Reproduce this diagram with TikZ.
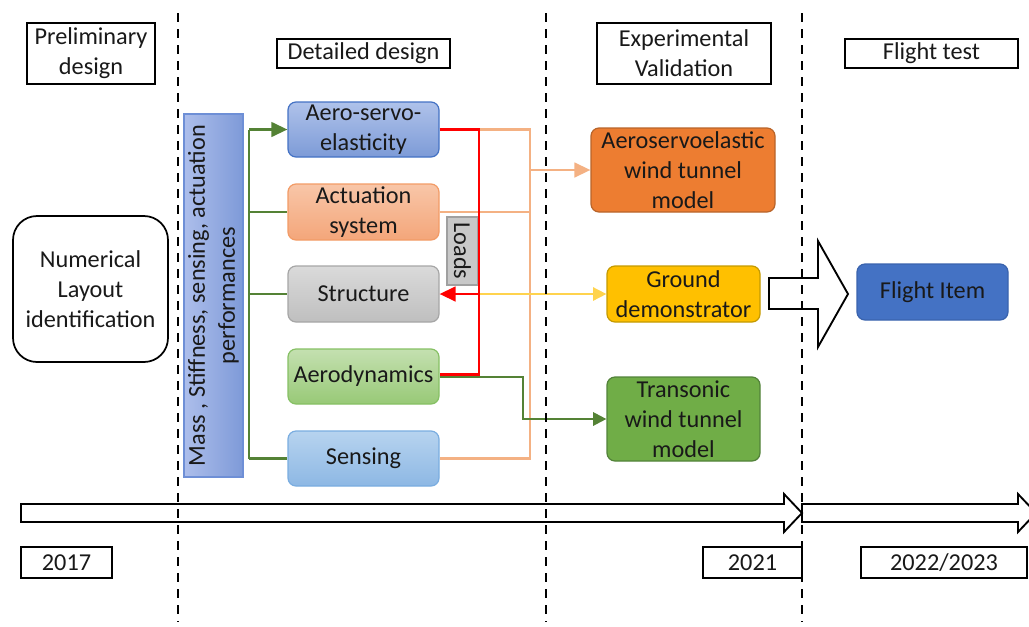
\documentclass[tikz,border=0pt]{standalone}
\usepackage{fontspec}
\setmainfont{Carlito}
\usetikzlibrary{arrows.meta,calc}
\newcommand{\fs}{\fontsize{18.2}{22.5}\selectfont}
\definecolor{aseTop}{HTML}{AFC2EA}\definecolor{aseBot}{HTML}{7D9BD7}\definecolor{aseBd}{HTML}{4472C4}
\definecolor{actTop}{HTML}{F8C6A8}\definecolor{actBot}{HTML}{F4A67A}\definecolor{actBd}{HTML}{F29B66}
\definecolor{strTop}{HTML}{DADADA}\definecolor{strBot}{HTML}{BFBFBF}\definecolor{strBd}{HTML}{A6A6A6}
\definecolor{aerTop}{HTML}{C4E0B0}\definecolor{aerBot}{HTML}{98C977}\definecolor{aerBd}{HTML}{86C064}
\definecolor{senTop}{HTML}{B7D3EF}\definecolor{senBot}{HTML}{8DB8E4}\definecolor{senBd}{HTML}{7AADE0}
\definecolor{barL}{HTML}{ADBEEB}\definecolor{barR}{HTML}{7E9AD8}\definecolor{barBd}{HTML}{6E8FD6}
\definecolor{ldFill}{HTML}{C8C8C8}\definecolor{ldBd}{HTML}{A0A0A0}
\definecolor{aswFill}{HTML}{ED7D31}\definecolor{aswBd}{HTML}{B8642A}
\definecolor{gdFill}{HTML}{FFC000}\definecolor{gdBd}{HTML}{C49A00}
\definecolor{trFill}{HTML}{70AD47}\definecolor{trBd}{HTML}{52823A}
\definecolor{fiFill}{HTML}{4472C4}\definecolor{fiBd}{HTML}{3A63AD}
\definecolor{gLine}{HTML}{548235}\definecolor{oLine}{HTML}{F4B183}
\definecolor{rLine}{HTML}{FF0000}\definecolor{yLine}{HTML}{FFD34D}
\tikzset{
  base/.style={inner sep=0pt, align=center, font=\fs, text=black!90},
  wh/.style 2 args={minimum width=#1*0.75pt, minimum height=#2*0.75pt},
  hdr/.style={base, draw=black, line width=1.4pt, fill=white},
  rbox/.style={base, rounded corners=6pt, line width=0.9pt},
  greenline/.style={draw=gLine, line width=1.7pt},
  redline/.style={draw=rLine, line width=1.8pt},
  orangeline/.style={draw=oLine, line width=1.8pt},
  yellowline/.style={draw=yLine, line width=1.2pt},
  tip/.style={-{Triangle[length=12pt,width=11pt]}},
  smalltip/.style={-{Triangle[length=10pt,width=10pt]}},
  phase/.style={draw=black, line width=1.5pt, dash pattern=on 7pt off 5pt},
  block/.style={draw=black, line width=1.4pt, line join=miter}
}
\begin{document}
\begin{tikzpicture}[x=0.75pt,y=-0.75pt]
\clip (0,0) rectangle (1029,626);
\useasboundingbox (0,0) rectangle (1029,626);

% headers
\node[hdr, wh={128}{61}] (hpre) at (91,53.5) {Preliminary\\design};
\node[hdr, wh={173}{29}] (hdet) at (363.5,53.5) {Detailed design};
\node[hdr, wh={174}{61}] (hexp) at (684,53.5) {Experimental\\Validation};
\node[hdr, wh={173}{29}] (hfli) at (931.5,53.5) {Flight test};

% left box
\node[base, draw=black, line width=1.3pt, rounded corners=18pt, wh={155}{146}] (num) at (90.5,289) {Numerical\\Layout\\identification};

% vertical bar
\node[base, draw=barBd, line width=0.8pt, left color=barL, right color=barR, rotate=90, wh={363}{59}] (bar) at (213.5,295.5) {Mass , Stiffness, sensing, actuation\\performances};

% discipline boxes
\node[rbox, draw=aseBd, top color=aseTop, bottom color=aseBot, wh={151}{55}] (ase) at (363.5,129.5) {Aero-servo-\\elasticity};
\node[rbox, draw=actBd, top color=actTop, bottom color=actBot, wh={151}{56}] (act) at (363.5,212) {Actuation\\system};
\node[rbox, draw=strBd, top color=strTop, bottom color=strBot, wh={151}{56}] (str) at (363.5,294) {Structure};
\node[rbox, draw=aerBd, top color=aerTop, bottom color=aerBot, wh={151}{55}] (aero) at (363.5,376.5) {Aerodynamics};
\node[rbox, draw=senBd, top color=senTop, bottom color=senBot, wh={151}{55}] (sens) at (363.5,458.5) {Sensing};

% loads label
\node[base, draw=ldBd, fill=ldFill, line width=0.8pt, rotate=-90, wh={68}{31}] (loads) at (462.5,251) {Loads};

% experimental boxes
\node[rbox, draw=aswBd, fill=aswFill, wh={184}{84}] (asw) at (683,170) {Aeroservoelastic\\wind tunnel\\model};
\node[rbox, draw=gdBd, fill=gdFill, wh={153}{56}] (gd) at (683.5,294) {Ground\\demonstrator};
\node[rbox, draw=trBd, fill=trFill, wh={153}{84}] (tr) at (683.5,419) {Transonic\\wind tunnel\\model};
\node[rbox, draw=fiBd, fill=fiFill, wh={151}{56}] (fi) at (932.5,292) {Flight Item};

% year boxes
\node[hdr, wh={91}{31}] (y17) at (66.5,562.5) {2017};
\node[hdr, wh={99}{31}] (y21) at (752.5,562.5) {2021};
\node[hdr, wh={166}{31}] (y22) at (944,562.5) {2022/2023};

% helper coordinates
\coordinate (gx) at (249,0);
\coordinate (rx) at (479,0);
\coordinate (ox) at (530,0);
\coordinate (gx2) at (523,0);

% green feed lines
\draw[greenline] (gx |- ase.west) -- (gx |- sens.west);
\draw[greenline, tip] (gx |- ase.west) -- (ase.west);
\draw[greenline] (gx |- act.west) -- (act.west);
\draw[greenline] (gx |- str.west) -- (str.west);
\draw[greenline] (gx |- sens.west) -- (sens.west);

% light orange lines
\draw[orangeline] (ase.east) -- (ox |- ase.east) -- (ox |- sens.east) -- (sens.east);
\draw[orangeline] (act.east) -- (ox |- act.east);
\draw[orangeline, tip] (ox |- asw.west) -- (asw.west);

% yellow line
\draw[yellowline, smalltip] (rx |- str.east) -- (gd.west);

% red loads lines
\draw[redline] (ase.east) -- (rx |- ase.east) -- ($(rx |- aero.east)+(0,-2)$) -- ($(aero.east)+(0,-2)$);
\draw[redline, tip] (rx |- str.east) -- (str.east);

% green to transonic
\draw[greenline, smalltip] ($(aero.east)+(0,0.5)$) -- ($(gx2 |- aero.east)+(0,0.5)$) -- (gx2 |- tr.west) -- (tr.west);

% block arrow ground -> flight
\draw[block] (769,278) -- (818,278) -- (818,241) -- (848,294) -- (818,347) -- (818,309) -- (769,309) -- cycle;

% timeline arrows
\draw[block] (21,504) -- (784,504) -- (784,494) -- (802,513) -- (784,532) -- (784,522) -- (21,522) -- cycle;
\draw[block] (802,504) -- (1018,504) -- (1018,494) -- (1036,513) -- (1018,532) -- (1018,522) -- (802,522) -- cycle;

% phase separators
\draw[phase] (178,13) -- (178,622);
\draw[phase] (546,13) -- (546,622);
\draw[phase] (802,13) -- (802,622);
\end{tikzpicture}
\end{document}
